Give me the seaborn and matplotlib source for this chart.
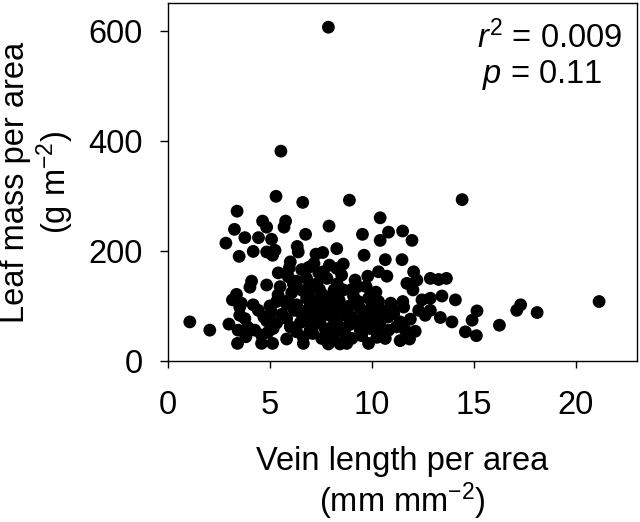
import matplotlib
matplotlib.use("Agg")
import matplotlib.pyplot as plt
import pandas as pd
import seaborn as sns

# Vein length per area (mm mm-2) and leaf mass per area (g m-2)
vla = [
    7.87, 5.54, 5.30, 6.61, 8.90, 14.43, 3.39, 10.41, 4.64, 5.77,
    7.90, 5.69, 4.84, 3.26, 10.82, 11.51, 6.75, 9.54, 3.77, 4.44,
    5.08, 11.97, 10.41, 2.84, 6.34, 4.18, 4.84, 5.25, 6.39, 7.59,
    8.28, 7.26, 3.49, 5.13, 9.62, 10.66, 11.48, 7.16, 7.92, 5.95,
    8.28, 6.56, 7.62, 5.41, 8.52, 10.33, 10.74, 9.80, 12.05, 5.90,
    6.80, 4.10, 9.18, 12.21, 12.87, 13.28, 13.66, 11.72, 6.15, 4.84,
    6.97, 4.02, 9.72, 12.02, 7.43, 8.15, 8.61, 9.02, 3.36, 6.07,
    6.89, 8.11, 13.44, 3.16, 5.33, 5.82, 6.80, 9.34, 10.33, 10.93,
    11.52, 12.46, 12.87, 14.10, 21.15, 4.18, 3.52, 4.43, 6.31, 7.46,
    7.79, 8.44, 9.43, 9.84, 11.56, 12.30, 12.87, 17.30, 17.11, 15.16,
    18.11, 3.52, 5.08, 5.82, 6.56, 7.13, 7.95, 8.77, 10.08, 11.07,
    12.62, 13.36, 1.07, 3.77, 4.84, 5.33, 7.30, 8.28, 9.26, 9.59,
    10.41, 11.39, 11.89, 13.93, 14.92, 2.99, 16.26, 2.05, 3.44, 4.26,
    5.16, 6.31, 6.97, 7.70, 8.61, 9.43, 9.92, 10.82, 11.64, 12.13,
    14.59, 3.82, 4.59, 5.82, 6.64, 7.54, 8.11, 9.02, 10.25, 10.66,
    11.85, 15.13, 3.41, 4.59, 5.13, 6.64, 7.87, 8.44, 8.77, 9.84,
    11.39,
    6.9, 7.2, 7.6, 8.0, 8.4, 8.9, 9.1, 7.0, 7.5, 8.1,
    8.5, 8.9, 9.6, 10.0, 10.5, 10.8, 6.2, 6.0, 6.5, 5.6,
    5.9, 6.6, 7.3, 7.8, 8.3, 7.1, 7.9, 8.7, 9.5, 10.4,
    11.2, 11.0, 10.2, 9.3, 5.4, 5.0, 4.7, 3.9, 3.6, 4.9,
    6.3, 6.9, 7.4, 8.6, 6.0, 5.5, 9.9, 8.2, 7.7, 9.0,
]
lma = [
    606, 381, 299, 288, 292, 293, 272, 260, 254, 254,
    245, 243, 243, 239, 234, 236, 230, 230, 224, 224,
    221, 219, 219, 214, 208, 199, 198, 201, 198, 197,
    204, 194, 190, 192, 192, 184, 184, 177, 174, 169,
    168, 166, 162, 160, 156, 162, 154, 154, 162, 153,
    150, 145, 147, 147, 150, 148, 150, 141, 140, 138,
    136, 134, 135, 129, 130, 129, 129, 130, 121, 124,
    123, 118, 118, 111, 108, 103, 114, 108, 108, 105,
    108, 111, 114, 111, 108, 102, 98, 92, 102, 98,
    100, 92, 95, 114, 98, 92, 92, 102, 92, 91,
    88, 83, 89, 77, 86, 83, 83, 82, 83, 86,
    83, 79, 71, 77, 73, 69, 68, 71, 73, 76,
    71, 71, 76, 71, 74, 67, 65, 56, 56, 56,
    59, 53, 56, 59, 55, 56, 59, 56, 56, 54,
    53, 44, 47, 40, 43, 41, 44, 41, 43, 41,
    40, 46, 32, 32, 32, 32, 31, 31, 32, 32,
    37,
    95, 110, 120, 105, 110, 100, 118, 72, 78, 64,
    60, 66, 90, 100, 92, 80, 92, 62, 70, 85,
    110, 128, 140, 150, 140, 50, 48, 48, 46, 60,
    62, 95, 125, 135, 120, 100, 80, 62, 105, 52,
    145, 170, 160, 176, 180, 135, 68, 90, 88, 80,
]

x_ticks = [0, 5, 10, 15, 20]
y_ticks = [0, 200, 400, 600]

df = pd.DataFrame({"vla": vla, "lma": lma})

sns.set_theme(style="ticks")
plt.rcParams["font.family"] = ["Liberation Sans", "DejaVu Sans"]
plt.rcParams["mathtext.fontset"] = "custom"
plt.rcParams["mathtext.rm"] = "Liberation Sans"
plt.rcParams["mathtext.it"] = "Liberation Sans:italic"
plt.rcParams["text.color"] = "black"
plt.rcParams["axes.labelcolor"] = "black"
plt.rcParams["xtick.color"] = "black"
plt.rcParams["ytick.color"] = "black"

fig = plt.figure(figsize=(6.4, 5.22), dpi=100)
ax = fig.add_axes([0.2625, 0.3084, 0.7325, 0.6859])

sns.scatterplot(data=df, x="vla", y="lma", color="black", s=85,
                edgecolor="none", linewidth=0, ax=ax, legend=False)

ax.set_xlim(0, 23)
ax.set_ylim(0, 650)
ax.set_xticks(x_ticks)
ax.set_yticks(y_ticks)
ax.tick_params(axis="x", labelsize=23.5, length=5, width=1, pad=16)
ax.tick_params(axis="y", labelsize=23.5, length=6, width=1, pad=12)
for sp in ax.spines.values():
    sp.set_linewidth(1)
    sp.set_color("black")

ax.set_xlabel("Vein length per area\n(mm mm$^{-2}$)", fontsize=23.5, labelpad=18,
              linespacing=1.1)
ax.set_ylabel("Leaf mass per area\n(g m$^{-2}$)", fontsize=23.5, labelpad=9,
              linespacing=1.1)

ax.text(0.968, 0.902, "$r^{2}$ = 0.009", transform=ax.transAxes, ha="right",
        va="center", fontsize=23.5)
ax.text(0.927, 0.80, "$p$ = 0.11", transform=ax.transAxes, ha="right",
        va="center", fontsize=23.5)

fig.savefig("out.png", dpi=100)
